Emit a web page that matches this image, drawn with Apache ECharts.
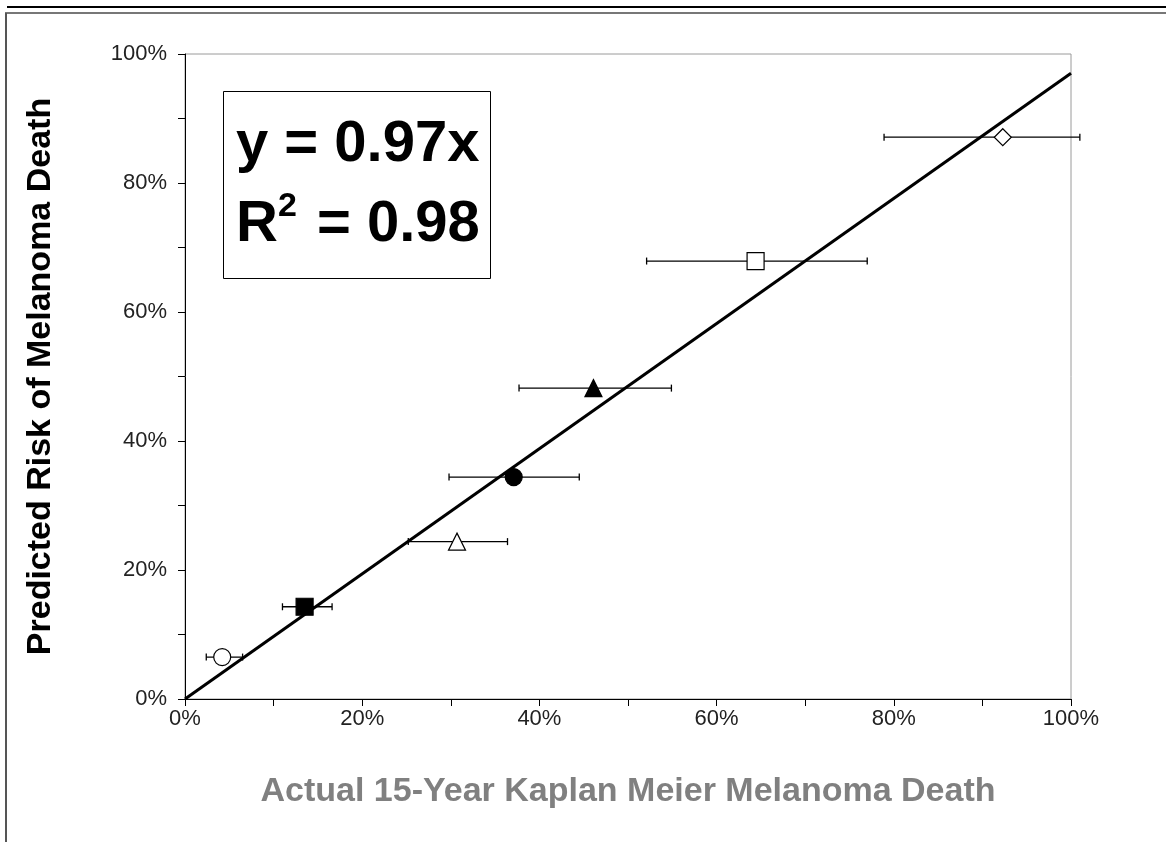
<!DOCTYPE html>
<html>
<head>
    <meta charset="utf-8">
    <title>Predicted vs actual melanoma death</title>
    <script src="https://cdn.jsdelivr.net/npm/echarts@6/dist/echarts.min.js"></script>
    <style>
        body { margin: 0; background: #fff; }
    </style>
</head>
<body>
    <div id="main" style="width: 1166px;height:842px;"></div>
    <script type="text/javascript">
        // actual (x) vs predicted (y), in percent
        const actual    = [4.2, 13.5, 30.7, 37.1, 46.1, 64.4, 92.3];
        const predicted = [6.5, 14.3, 24.4, 34.4, 48.2, 67.9, 87.1];
        const errLow    = [2.4, 11.0, 25.2, 29.8, 37.7, 52.1, 78.9];
        const errHigh   = [6.5, 16.6, 36.4, 44.5, 54.9, 77.0, 101.0];
        const symbols   = ['circle', 'rect', 'triangle', 'circle', 'triangle', 'rect', 'diamond'];
        const filled    = [false, true, false, true, true, false, false];
        const fitLine   = [[0, 0], [100, 97]];
        const tickLabels = ['0%', '20%', '40%', '60%', '80%', '100%'];

        var myChart = echarts.init(document.getElementById('main'));

        const fmt = function (v) {
            return (Math.round(v) % 20 === 0) ? tickLabels[Math.round(v) / 20] : '';
        };

        const pointData = actual.map((x, i) => ({
            value: [x, predicted[i]],
            symbol: symbols[i],
            itemStyle: { color: filled[i] ? '#000' : '#fff', borderColor: '#000', borderWidth: 1.2, opacity: 1 }
        }));

        const errData = actual.map((x, i) => [errLow[i], errHigh[i], predicted[i]]);

        const axisCommon = {
            type: 'value', min: 0, max: 100, interval: 10,
            axisLine: { show: true, lineStyle: { color: '#000', width: 1 } },
            axisTick: { show: true, length: 7, lineStyle: { color: '#000' } },
            splitLine: { show: false },
            axisLabel: { formatter: fmt, color: '#222', fontSize: 22, fontFamily: 'Liberation Sans' }
        };

        var option = {
            backgroundColor: '#fff',
            animation: false,
            grid: {
                left: 185, top: 54, width: 886, height: 645,
                show: true, borderColor: '#9a9a9a', borderWidth: 1
            },
            graphic: {
                elements: [
                    { type: 'line', shape: { x1: 7, y1: 7, x2: 1166, y2: 7 }, style: { stroke: '#000', lineWidth: 2 } },
                    { type: 'line', shape: { x1: 5, y1: 13, x2: 1166, y2: 13 }, style: { stroke: '#777', lineWidth: 2 } },
                    { type: 'line', shape: { x1: 6, y1: 13, x2: 6, y2: 842 }, style: { stroke: '#555', lineWidth: 2 } },
                    {
                        type: 'rect', z: 10,
                        shape: { x: 223.5, y: 91.5, width: 267, height: 187 },
                        style: { fill: '#fff', stroke: '#000', lineWidth: 1 }
                    },
                    {
                        type: 'text', z: 11, left: 236, top: 116,
                        style: {
                            text: 'y = 0.97x',
                            font: 'bold 58px "Liberation Sans", Arial, sans-serif',
                            fill: '#000'
                        }
                    },
                    {
                        type: 'text', z: 11, left: 236, top: 190,
                        style: {
                            text: '{b|R}{s|2}{b| = 0.98}',
                            fill: '#000',
                            rich: {
                                b: { font: 'bold 58px "Liberation Sans", Arial, sans-serif', fill: '#000', verticalAlign: 'bottom' },
                                s: { font: 'bold 34px "Liberation Sans", Arial, sans-serif', fill: '#000', verticalAlign: 'top', padding: [0, 4, 30, 0] }
                            }
                        }
                    }
                ]
            },
            xAxis: Object.assign({}, axisCommon, {
                name: 'Actual 15-Year Kaplan Meier Melanoma Death',
                nameLocation: 'middle',
                nameGap: 76,
                nameTextStyle: { color: '#808080', fontSize: 34, fontWeight: 'bold', fontFamily: 'Liberation Sans' },
                axisLabel: Object.assign({}, axisCommon.axisLabel, { margin: 9 })
            }),
            yAxis: Object.assign({}, axisCommon, {
                name: 'Predicted Risk of Melanoma Death',
                nameLocation: 'middle',
                nameGap: 127,
                nameTextStyle: { color: '#000', fontSize: 34, fontWeight: 'bold', fontFamily: 'Liberation Sans' },
                axisLabel: Object.assign({}, axisCommon.axisLabel, { margin: 18 })
            }),
            series: [
                {
                    type: 'line',
                    data: fitLine,
                    symbol: 'none',
                    lineStyle: { color: '#000', width: 3 },
                    z: 3
                },
                {
                    type: 'custom',
                    data: errData,
                    clip: false,
                    z: 2,
                    renderItem: function (params, api) {
                        const y = api.value(2);
                        const a = api.coord([api.value(0), y]);
                        const b = api.coord([api.value(1), y]);
                        const h = 3.5;
                        const st = { stroke: '#000', lineWidth: 1.3 };
                        return {
                            type: 'group',
                            children: [
                                { type: 'line', shape: { x1: a[0], y1: a[1], x2: b[0], y2: b[1] }, style: st },
                                { type: 'line', shape: { x1: a[0], y1: a[1] - h, x2: a[0], y2: a[1] + h }, style: st },
                                { type: 'line', shape: { x1: b[0], y1: b[1] - h, x2: b[0], y2: b[1] + h }, style: st }
                            ]
                        };
                    }
                },
                {
                    type: 'scatter',
                    data: pointData,
                    symbolSize: 17,
                    z: 4
                }
            ]
        };

        myChart.setOption(option);
    </script>
</body>
</html>
